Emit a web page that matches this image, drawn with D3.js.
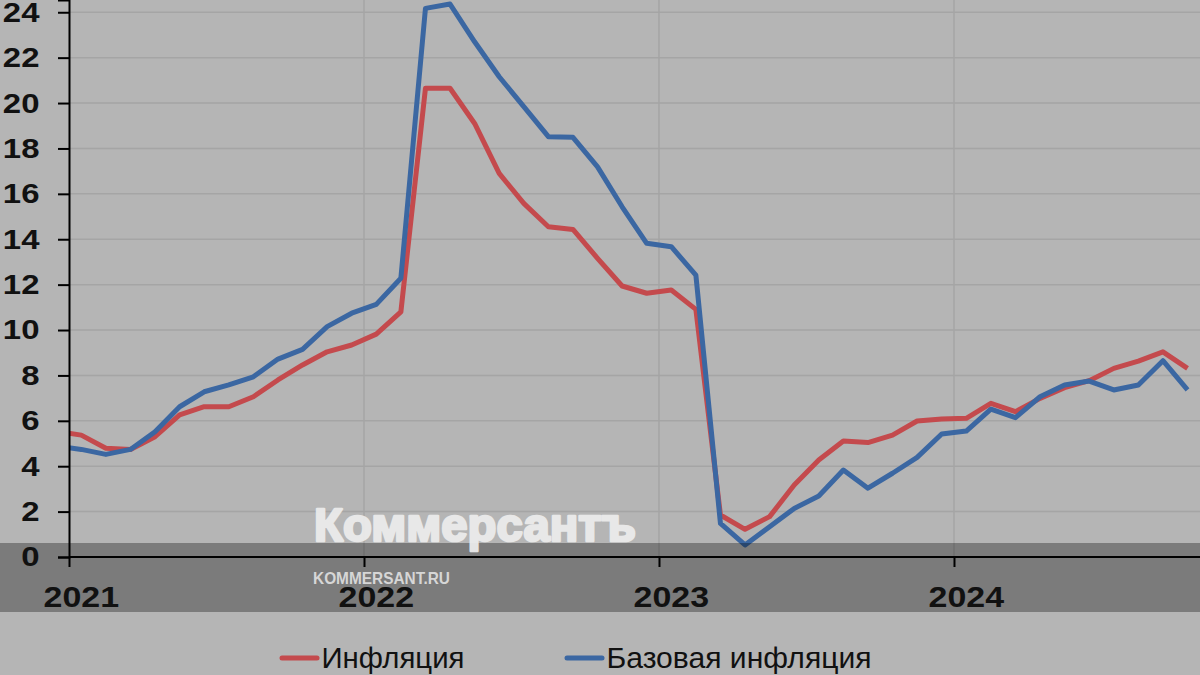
<!DOCTYPE html>
<html>
<head>
<meta charset="utf-8">
<script src="https://cdn.jsdelivr.net/npm/d3@7/dist/d3.min.js"></script>
<style>
  html, body { margin: 0; padding: 0; background: #b5b5b5; }
  svg { display: block; }
  text { font-family: "Liberation Sans", Arial, sans-serif; }
</style>
</head>
<body>
<svg id="chart" width="1200" height="675"></svg>
<script>
// ---- data (monthly, year-over-year %) ----
const months = [
  "2020-12",
  "2021-01","2021-02","2021-03","2021-04","2021-05","2021-06","2021-07","2021-08","2021-09","2021-10","2021-11","2021-12",
  "2022-01","2022-02","2022-03","2022-04","2022-05","2022-06","2022-07","2022-08","2022-09","2022-10","2022-11","2022-12",
  "2023-01","2023-02","2023-03","2023-04","2023-05","2023-06","2023-07","2023-08","2023-09","2023-10","2023-11","2023-12",
  "2024-01","2024-02","2024-03","2024-04","2024-05","2024-06","2024-07","2024-08","2024-09","2024-10"
];
const inflation = [
  5.53,
  5.37, 4.79, 4.74, 5.30, 6.26, 6.62, 6.62, 7.06, 7.80, 8.46, 9.04, 9.34,
  9.82, 10.80, 20.65, 20.65, 19.10, 16.90, 15.58, 14.55, 14.43, 13.16, 11.94, 11.62,
  11.76, 10.91, 1.85, 1.22, 1.78, 3.17, 4.27, 5.11, 5.04, 5.37, 5.99, 6.08,
  6.11, 6.77, 6.40, 6.99, 7.46, 7.77, 8.31, 8.63, 9.04, 8.31
];
const coreInflation = [
  4.88,
  4.74, 4.52, 4.74, 5.52, 6.62, 7.28, 7.58, 7.94, 8.72, 9.15, 10.15, 10.74,
  11.13, 12.28, 24.17, 24.36, 22.70, 21.16, 19.84, 18.52, 18.49, 17.19, 15.43, 13.82,
  13.67, 12.42, 1.48, 0.53, 1.33, 2.14, 2.69, 3.83, 3.03, 3.69, 4.39, 5.42,
  5.55, 6.51, 6.14, 7.06, 7.58, 7.75, 7.36, 7.58, 8.65, 7.36
];
const yTicks = [0, 2, 4, 6, 8, 10, 12, 14, 16, 18, 20, 22, 24];
const xYears = ["2021", "2022", "2023", "2024"];
const seriesNames = ["Инфляция", "Базовая инфляция"];
const seriesColors = ["#c44a4d", "#3b67a2"];

// ---- layout ----
const W = 1200, H = 675;
const left = 69, bottom = 557;
const svg = d3.select("#chart");

// month index relative to Jan 2021
const mIndex = s => { const [y, m] = s.split("-").map(Number); return (y - 2021) * 12 + (m - 1); };

const x = d3.scaleLinear().domain([0, 48]).range([left, left + 48 * 24.583]);
const y = d3.scaleLinear().domain([0, 24.54]).range([bottom, 0]);

svg.append("rect").attr("width", W).attr("height", H).attr("fill", "#b5b5b5");

// gridlines
svg.append("g").selectAll("line.h").data(yTicks.filter(d => d > 0)).join("line")
  .attr("x1", left).attr("x2", W).attr("y1", d => y(d)).attr("y2", d => y(d))
  .attr("stroke", "#a5a5a5").attr("stroke-width", 1.5);
svg.append("g").selectAll("line.v").data(xYears.slice(1)).join("line")
  .attr("x1", d => x((+d - 2021) * 12)).attr("x2", d => x((+d - 2021) * 12))
  .attr("y1", 0).attr("y2", bottom)
  .attr("stroke", "#a5a5a5").attr("stroke-width", 1.5);

// lines
svg.append("clipPath").attr("id", "plotclip")
  .append("rect").attr("x", left).attr("y", 0).attr("width", W - left).attr("height", bottom + 20);

const rows = months.map((m, i) => ({ t: mIndex(m) + 0.5, a: inflation[i], b: coreInflation[i] }));
const lineGen = key => d3.line().x(d => x(d.t)).y(d => y(d[key]));
const g = svg.append("g").attr("clip-path", "url(#plotclip)");
["a", "b"].forEach((k, i) => {
  g.append("path").datum(rows).attr("d", lineGen(k))
    .attr("fill", "none").attr("stroke", seriesColors[i]).attr("stroke-width", 5)
    .attr("stroke-linejoin", "round");
});

// axes
const yAxis = d3.axisLeft(y).tickValues(yTicks).tickSize(11).tickFormat("");
const ya = svg.append("g").attr("transform", `translate(${left},0)`).call(yAxis);
ya.selectAll("line").attr("stroke", "#000").attr("stroke-width", 2);
ya.select(".domain").attr("stroke", "#000").attr("stroke-width", 2);

const xAxis = d3.axisBottom(x).tickValues(xYears.map(d => (+d - 2021) * 12)).tickSize(10).tickFormat("").tickSizeOuter(0);
const xa = svg.append("g").attr("transform", `translate(0,${bottom})`).call(xAxis);
xa.select(".domain").attr("d", `M${left},0H${W}`).attr("stroke", "#000").attr("stroke-width", 2);
xa.selectAll("line").attr("stroke", "#000").attr("stroke-width", 2);

// dark watermark band
svg.append("rect").attr("x", 0).attr("y", 543).attr("width", W).attr("height", 69)
  .attr("fill", "#000").attr("opacity", 0.32);

// watermark texts
svg.append("text").attr("x", 314).attr("y", 541).text("Коммерсантъ")
  .attr("font-size", 47).attr("font-weight", "bold").attr("fill", "#ececec")
  .attr("stroke", "#ececec").attr("stroke-width", 2.6).attr("stroke-linejoin", "round")
  .attr("opacity", 0.93)
  .attr("textLength", 322).attr("lengthAdjust", "spacingAndGlyphs");
svg.append("text").attr("x", 313).attr("y", 583.5).text("KOMMERSANT.RU")
  .attr("font-size", 16.5).attr("font-weight", "bold").attr("fill", "#d6d6d6")
  .attr("textLength", 137).attr("lengthAdjust", "spacingAndGlyphs");

// y tick labels
svg.append("g").selectAll("g").data(yTicks).join("g")
  .attr("transform", d => `translate(39.5,${y(d)}) scale(1.22,1)`)
  .append("text").attr("text-anchor", "end").attr("dy", "0.35em")
  .attr("font-size", 27).attr("font-weight", "bold").attr("fill", "#111")
  .text(d => d);

// x tick labels (centred under January of each year)
svg.append("g").selectAll("g").data(xYears).join("g")
  .attr("transform", d => `translate(${x((+d - 2021) * 12 + 0.5)},607) scale(1.17,1)`)
  .append("text").attr("text-anchor", "middle")
  .attr("font-size", 29).attr("font-weight", "bold").attr("fill", "#111")
  .text(d => d);

// legend
const legendX = [282, 567];
const legendTextLen = [143, 265];
const lg = svg.append("g").selectAll("g").data(seriesNames).join("g")
  .attr("transform", (d, i) => `translate(${legendX[i]},658)`);
lg.append("line").attr("x1", 0).attr("x2", 35).attr("y1", 0).attr("y2", 0)
  .attr("stroke", (d, i) => seriesColors[i]).attr("stroke-width", 5).attr("stroke-linecap", "round");
lg.append("text").attr("x", 39.5).attr("y", 9.5).text(d => d)
  .attr("font-size", 30).attr("fill", "#111")
  .attr("textLength", (d, i) => legendTextLen[i]).attr("lengthAdjust", "spacingAndGlyphs");
</script>
</body>
</html>
